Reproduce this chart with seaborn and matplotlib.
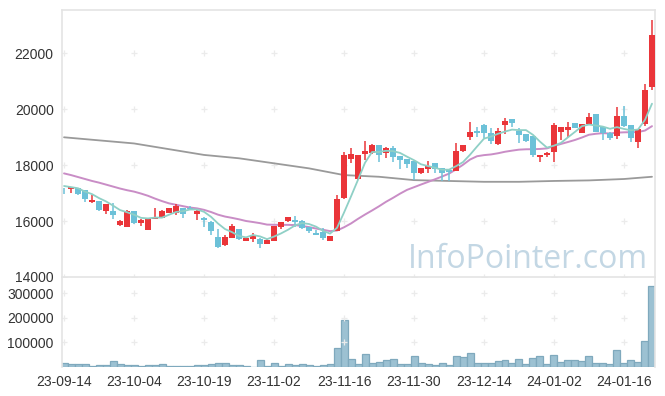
import matplotlib
matplotlib.use('Agg')

import matplotlib.pyplot as plt
import seaborn as sns
import numpy as np
import pandas as pd

# 거래일 (한국 휴장일 제외)
holidays = ['2023-09-28', '2023-09-29', '2023-10-02', '2023-10-03', '2023-10-09',
            '2023-12-25', '2023-12-29', '2024-01-01']
days = pd.bdate_range('2023-09-14', '2024-01-22')
days = days[~days.isin(pd.to_datetime(holidays))]
date_labels = days.strftime('%y-%m-%d')

opens = [17110, 17140, 17170, 17110, 16680, 16710, 16360, 16370, 15860, 15800,
         16360, 15940, 15680, 16080, 16120, 16300, 16270, 16450, 16470, 16260,
         16120, 15980, 15440, 15140, 15400, 15710, 15300, 15360, 15370, 15190,
         15300, 15800, 15990, 16040, 16000, 15790, 15570, 15610, 15300, 15650,
         16830, 18210, 17500, 18390, 18420, 18710, 18420, 18610, 18320, 18210,
         18140, 17700, 17870, 18060, 17880, 17820, 17800, 18490, 19010, 19210,
         19440, 19130, 18750, 19440, 19640, 19210, 19110, 19040, 18300, 18360,
         18480, 19190, 19250, 19500, 19160, 19480, 19820, 19370, 19160, 19050,
         19750, 19430, 18830, 19460, 20800]
closes = [17100, 17200, 16960, 16790, 16750, 16390, 16610, 16210, 15990, 16370,
          15940, 16050, 16110, 16140, 16360, 16460, 16540, 16260, 16430, 16370,
          16040, 15650, 15060, 15440, 15820, 15360, 15400, 15480, 15190, 15330,
          15820, 15960, 16140, 15960, 15760, 15640, 15500, 15390, 15460, 16790,
          18360, 18390, 18360, 18500, 18710, 18360, 18610, 18300, 18180, 18040,
          17730, 17880, 17980, 17870, 17700, 17740, 18500, 18710, 19180, 19160,
          19160, 18870, 19210, 19570, 19510, 19070, 18870, 18360, 18360, 18440,
          19430, 19360, 19360, 19330, 19460, 19710, 19190, 19160, 18950, 19750,
          19390, 18950, 19290, 20680, 22640]
highs = [17170, 17210, 17180, 17110, 16930, 16720, 16620, 16640, 16050, 16380,
         16370, 16060, 16110, 16450, 16380, 16480, 16610, 16470, 16530, 16390,
         16130, 15990, 15700, 15500, 15900, 15720, 15420, 15570, 15400, 15340,
         15830, 15970, 16160, 16180, 16020, 15800, 15680, 15750, 15470, 16930,
         18450, 18600, 18370, 18860, 18760, 18730, 18630, 18680, 18330, 18230,
         18160, 17900, 18150, 18070, 17890, 17830, 18780, 18720, 19520, 19360,
         19450, 19310, 19310, 19670, 19650, 19310, 19120, 19050, 18370, 18470,
         19490, 19370, 19550, 19510, 19470, 19860, 19830, 19380, 19170, 20080,
         20120, 19440, 19300, 20890, 23180]
lows = [16960, 17010, 16930, 16690, 16650, 16360, 16250, 16070, 15810, 15790,
        15880, 15820, 15680, 16060, 16100, 16290, 16230, 16110, 16380, 16040,
        15800, 15500, 15050, 15100, 15380, 15310, 15280, 15250, 15020, 15180,
        15290, 15700, 15950, 15800, 15700, 15580, 15490, 15320, 15290, 15640,
        16790, 18080, 17480, 18180, 18400, 18100, 18250, 18100, 17860, 17890,
        17480, 17680, 17700, 17700, 17430, 17430, 17780, 18480, 18890, 19010,
        18960, 18760, 18720, 19110, 19360, 18770, 18820, 18300, 18100, 18290,
        18120, 18890, 19010, 19320, 19140, 19470, 19180, 18900, 18880, 18930,
        19360, 18830, 18600, 19410, 20680]
volumes = [16000, 12000, 12000, 12000, 5000, 8000, 8000, 24000, 12000, 8000,
           8000, 4000, 8000, 8000, 12000, 4000, 4000, 4000, 4000, 8000,
           8000, 12000, 16000, 16000, 8000, 8000, 4000, 1500, 28000, 5000,
           16000, 5000, 12000, 8000, 12000, 8000, 4000, 8000, 12000, 77000,
           192000, 33000, 12000, 53000, 16000, 20000, 28000, 32000, 12000, 12000,
           45000, 16000, 12000, 8000, 16000, 8000, 45000, 41000, 57000, 16000,
           16000, 16000, 24000, 28000, 16000, 32000, 12000, 37000, 45000, 12000,
           49000, 20000, 28000, 28000, 24000, 45000, 16000, 16000, 12000, 69000,
           16000, 28000, 20000, 106000, 330000]

# 이동평균 (앞부분은 이전 데이터가 없어 차트에서 읽은 값)
ma5_head = [17250, 17210, 17170, 17050]
ma20_head = [17700, 17640, 17570, 17500, 17430, 17370, 17300, 17230, 17160, 17100,
             17050, 16980, 16900, 16800, 16710, 16630, 16580, 16530, 16480]
ma120_idx = [0, 10, 20, 25, 30, 35, 40, 45, 50, 55, 60, 65, 70, 75, 80, 84]
ma120_val = [18990, 18770, 18360, 18240, 18060, 17880, 17640, 17580, 17460, 17430,
             17400, 17400, 17430, 17450, 17500, 17580]

red = '#ea3539'
blue = '#6cc1d8'

df = pd.DataFrame({'o': opens, 'h': highs, 'l': lows, 'c': closes, 'v': volumes})
df['i'] = np.arange(len(df))
ma5 = df['c'].rolling(5).mean().to_numpy()
ma5[:4] = ma5_head
ma20 = df['c'].rolling(20).mean().to_numpy()
ma20[:19] = ma20_head

sns.set_style('white')
plt.rcParams['font.family'] = ['Liberation Sans', 'DejaVu Sans']

fig = plt.figure(figsize=(6.65, 3.96), dpi=100)
ax = fig.add_axes([62 / 665, 1 - 277 / 396, 593 / 665, 267 / 396])
axv = fig.add_axes([62 / 665, 1 - 367 / 396, 593 / 665, 89 / 396], sharex=ax)

up = df['c'] >= df['o']
cols = np.where(up, red, blue)
body_lo = np.minimum(df['o'], df['c'])
body_h = np.maximum(np.abs(df['c'] - df['o']), 25)

# 이동평균선
sns.lineplot(x=ma120_idx, y=ma120_val, ax=ax, color='#9a9a9a', linewidth=1.3, zorder=2)
sns.lineplot(x=df['i'], y=ma20, ax=ax, color='#c98dc6', linewidth=1.4, zorder=2)
sns.lineplot(x=df['i'], y=ma5, ax=ax, color='#8fd0c6', linewidth=1.3, zorder=4)

# 캔들
ax.vlines(df['i'], df['l'], df['h'], colors=cols, linewidth=1.1, zorder=3)
ax.bar(df['i'], body_h, bottom=body_lo, width=0.75, color=cols, linewidth=0, zorder=3)

# 거래량
sns.barplot(x=df['i'], y=df['v'], ax=axv, native_scale=True, width=1,
            color='#9cc1d2', edgecolor='#7fa9bd', linewidth=0.9, saturation=1)

xticks = list(range(0, len(df), 10))
ax.set_xlim(-0.29, 84.43)
ax.set_ylim(14000, 23536)
axv.set_ylim(0, 363000)

ax.set_yticks([14000, 16000, 18000, 20000, 22000])
axv.set_yticks([100000, 200000, 300000])
axv.set_xticks(xticks)
axv.set_xticklabels([date_labels[k] for k in xticks])
plt.setp(ax.get_xticklabels(), visible=False)

# 격자 '+' 표시
gx, gy = np.meshgrid(xticks, [14000, 16000, 18000, 20000, 22000])
ax.plot(gx.ravel(), gy.ravel(), '+', color='#ebebeb', markersize=4, markeredgewidth=0.9, zorder=1)
gx, gy = np.meshgrid(xticks, [100000, 200000, 300000])
axv.plot(gx.ravel(), gy.ravel(), '+', color='#ebebeb', markersize=4, markeredgewidth=0.9, zorder=1)

for a in (ax, axv):
    a.set_xlabel('')
    a.set_ylabel('')
    a.tick_params(length=0, labelsize=10, colors='#333333', pad=6)
    for s in a.spines.values():
        s.set_color('#e4e4e4')
        s.set_linewidth(1.2)
axv.spines['top'].set_visible(False)
axv.spines['bottom'].set_visible(False)

ax.text(0.988, 0.034, 'InfoPointer.com', transform=ax.transAxes, ha='right',
        va='baseline', fontsize=23, color='#c3d7e4', family=['Open Sans', 'DejaVu Sans'],
        zorder=0)

fig.savefig('out.png', dpi=100)
